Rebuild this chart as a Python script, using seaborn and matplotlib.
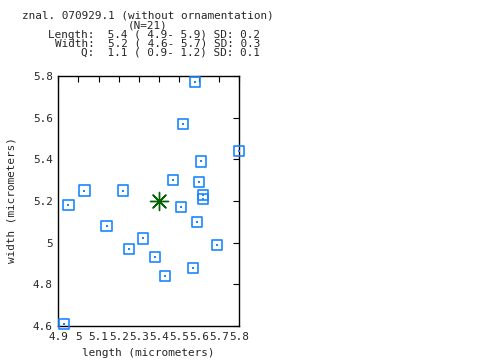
import pandas as pd
import matplotlib
matplotlib.use("Agg")
import matplotlib.pyplot as plt
import seaborn as sns

length = [5.58, 5.52, 5.80, 5.61, 5.47, 5.60, 5.03, 5.22, 5.62, 5.62, 4.95,
          5.51, 5.14, 5.59, 5.32, 5.25, 5.69, 5.38, 5.57, 5.43, 4.93]
width = [5.77, 5.57, 5.44, 5.39, 5.30, 5.29, 5.25, 5.25, 5.23, 5.21, 5.18,
         5.17, 5.08, 5.10, 5.02, 4.97, 4.99, 4.93, 4.88, 4.84, 4.61]
mean_length = [5.4]
mean_width = [5.2]

x_ticks = [4.9, 5.0, 5.1, 5.2, 5.3, 5.4, 5.5, 5.6, 5.7, 5.8]
x_tick_labels = ["4.9", "5", "5.1", "5.2", "5.3", "5.4", "5.5", "5.6", "5.7", "5.8"]
y_ticks = [4.6, 4.8, 5.0, 5.2, 5.4, 5.6, 5.8]
y_tick_labels = ["4.6", "4.8", "5", "5.2", "5.4", "5.6", "5.8"]

title_lines = ["znal. 070929.1 (without ornamentation)", "(N=21)"]
stat_lines = ["Length:  5.4 ( 4.9- 5.9) SD: 0.2",
              "Width:  5.2 ( 4.6- 5.7) SD: 0.3",
              "Q:  1.1 ( 0.9- 1.2) SD: 0.1"]

df = pd.DataFrame({"length": length, "width": width})
mean_df = pd.DataFrame({"length": mean_length, "width": mean_width})

sns.set_theme(style="white")
plt.rcParams['font.family'] = ['DejaVu Sans Mono']
mono = 7.9
blue = "#1a86ff"
green = "#006400"

fig = plt.figure(figsize=(4.8, 3.6), dpi=100)
ax = fig.add_axes([58.3 / 480, 34 / 360, 181 / 480, 250 / 360])

sns.scatterplot(data=df, x="length", y="width", marker="s", s=55,
                facecolor="none", edgecolor=blue, linewidth=1.2, ax=ax,
                clip_on=False, zorder=3)
sns.scatterplot(data=df, x="length", y="width", marker="s", s=1.5,
                color=blue, linewidth=0, ax=ax, clip_on=False, zorder=3)
sns.scatterplot(data=mean_df, x="length", y="width", marker=(8, 2, 0), s=170,
                color=green, linewidth=1.0, ax=ax, zorder=4)
sns.scatterplot(data=mean_df, x="length", y="width", marker="o", s=10,
                color=green, linewidth=0, ax=ax, zorder=4)

ax.set_xlim(4.9, 5.8)
ax.set_ylim(4.6, 5.8)
ax.set_xticks(x_ticks)
ax.set_xticklabels(x_tick_labels, fontsize=mono)
ax.set_yticks(y_ticks)
ax.set_yticklabels(y_tick_labels, fontsize=mono)
ax.tick_params(direction="in", length=4.5, width=0.8, color="black",
               top=True, right=True, pad=4)
for sp in ax.spines.values():
    sp.set_color("black")
    sp.set_linewidth(1.0)
ax.set_xlabel("")
ax.set_ylabel("")

fig.text(148 / 480, 1 - 353 / 360, "length (micrometers)", fontsize=mono,
         ha="center", va="center")
fig.text(12 / 480, 1 - 200 / 360, "width (micrometers)", fontsize=mono,
         ha="center", va="center", rotation=90)

fig.text(148 / 480, 1 - 15 / 360, title_lines[0], fontsize=mono, ha="center", va="center")
fig.text(148 / 480, 1 - 25 / 360, title_lines[1], fontsize=mono, ha="center", va="center")
for i, line in enumerate(stat_lines):
    fig.text(260 / 480, 1 - (34.5 + 9.2 * i) / 360, line, fontsize=mono,
             ha="right", va="center")

fig.savefig("out.png", dpi=100)
